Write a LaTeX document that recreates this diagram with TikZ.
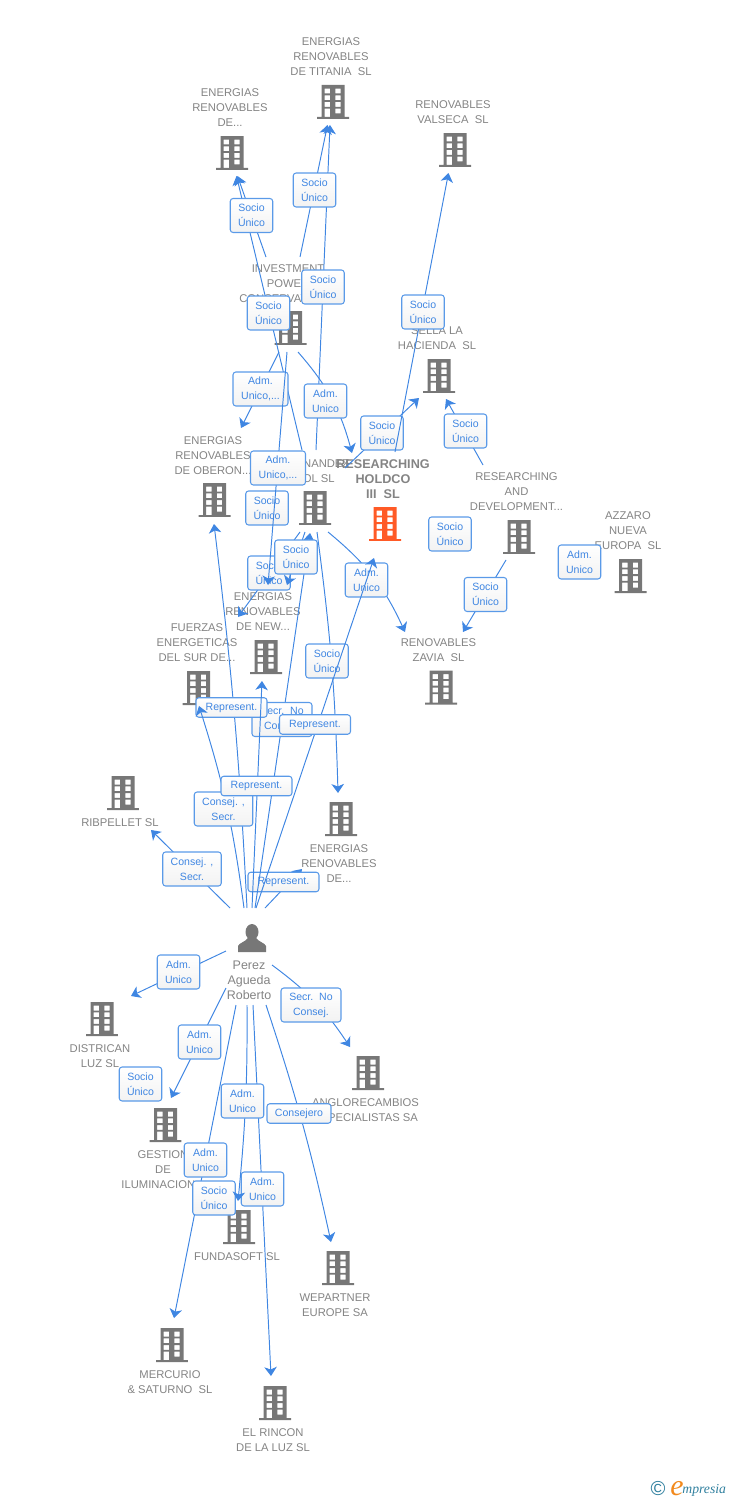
\documentclass[tikz,border=0pt]{standalone}
\usepackage{fontspec}
\setmainfont{Liberation Sans}
\newfontfamily\logofont{Liberation Serif}
\usetikzlibrary{arrows.meta}
\definecolor{relblue}{HTML}{3F86E2}
\definecolor{boxblue}{HTML}{5A9AE8}
\definecolor{cogray}{HTML}{777777}
\definecolor{txtgray}{HTML}{848484}
\definecolor{mainorange}{HTML}{FF5A26}
\definecolor{logoteal}{HTML}{2F7F9E}
\definecolor{logoorange}{HTML}{F28A1E}

\begin{document}
\begin{tikzpicture}[
  x=0.02cm,y=-0.02cm,
  bldg/.style={minimum width=0.64cm,minimum height=0.68cm,inner sep=0pt,
    path picture={\fill[#1,even odd rule,shift={(path picture bounding box.center)}]
      (-11.5,-17) rectangle (11.5,15) (-16,15) rectangle (16,17)
      (-8.3,-13.3) rectangle (-3,-8.5) (2.3,-13.3) rectangle (7.5,-8.5)
      (-8.3,-6.7) rectangle (-3,-1.9) (2.3,-6.7) rectangle (7.5,-1.9)
      (-8.3,0) rectangle (-3,4.8) (2.3,0) rectangle (7.5,4.8)
      (-8.3,6.7) rectangle (-3,15) (2.3,6.7) rectangle (7.5,11.5);}},
  bldg/.default=cogray,
  persona/.style={minimum width=0.56cm,minimum height=0.56cm,inner sep=0pt,
    path picture={\fill[cogray,shift={(path picture bounding box.center)}]
      (0,-6) ellipse (6.5 and 8)
      (-14,14) -- (-14,8) .. controls (-13,5) and (-7,4) .. (-4,0) -- (4,0)
      .. controls (7,4) and (13,5) .. (14,8) -- (14,14) -- cycle;}},
  cotext/.style={align=center,text=txtgray,inner sep=0pt,yshift=-0.5pt,
    font=\fontsize{6.4pt}{8.54pt}\selectfont},
  maintext/.style={cotext,font=\fontsize{7.2pt}{8.54pt}\selectfont\bfseries},
  pertext/.style={cotext,font=\fontsize{7.1pt}{8.54pt}\selectfont},
  rel/.style={draw=relblue,line width=0.55pt,-{Stealth[length=0.18cm,width=0.25cm,inset=0.05cm]}},
  lab/.style={draw=boxblue,line width=0.6pt,rounded corners=1.6pt,top color=white,bottom color=black!5,
    text=relblue,align=center,inner sep=0pt,minimum width=0.85cm,minimum height=0.68cm,
    font=\fontsize{6pt}{8.54pt}\selectfont},
  labw/.style={lab,minimum width=1.42cm,minimum height=0.39cm}
  ]
\useasboundingbox (0,0) rectangle (728,1500);

% companies
\node[bldg] (TITANIA) at (333,102) {};
\node[cotext] (TITANIAt) at (331,56) {ENERGIAS\\RENOVABLES\\DE TITANIA\ \ SL};
\node[bldg] (ENERDE) at (232,153) {};
\node[cotext] (ENERDEt) at (230,107) {ENERGIAS\\RENOVABLES\\DE...};
\node[bldg] (VALSECA) at (455,150) {};
\node[cotext] (VALSECAt) at (453,111.5) {RENOVABLES\\VALSECA\ \ SL};
\node[bldg] (INVEST) at (290.5,328) {};
\node[cotext] (INVESTt) at (288,283) {INVESTMENT\\POWER\\CONSERVATION...};
\node[bldg] (SELLA) at (439,376) {};
\node[cotext] (SELLAt) at (437,337.5) {SELLA LA\\HACIENDA\ \ SL};
\node[bldg] (OBERON) at (214.5,500) {};
\node[cotext] (OBERONt) at (213,455) {ENERGIAS\\RENOVABLES\\DE OBERON...};
\node[bldg] (FERNAN) at (315,508) {};
\node[cotext] (FERNANt) at (315,470) {FERNANDEZ\\SOL SL};
\node[bldg=mainorange] (HOLDCO) at (385,524) {};
\node[maintext] (HOLDCOt) at (383,478) {RESEARCHING\\HOLDCO\\III\ \ SL};
\node[bldg] (DEVEL) at (519,537) {};
\node[cotext] (DEVELt) at (516.5,491) {RESEARCHING\\AND\\DEVELOPMENT...};
\node[bldg] (AZZARO) at (630.5,576) {};
\node[cotext] (AZZAROt) at (628,530) {AZZARO\\NUEVA\\EUROPA\ \ SL};
\node[bldg] (ZAVIA) at (441,687.5) {};
\node[cotext] (ZAVIAt) at (438.5,649.5) {RENOVABLES\\ZAVIA\ \ SL};
\node[bldg] (NEWCO) at (266,657) {};
\node[cotext] (NEWCOt) at (263,611) {ENERGIAS\\RENOVABLES\\DE NEW...};
\node[bldg] (FUERZAS) at (198.5,688) {};
\node[cotext] (FUERZASt) at (197,642) {FUERZAS\\ENERGETICAS\\DEL SUR DE...};
\node[bldg] (RIBPEL) at (123,793) {};
\node[cotext] (RIBPELt) at (120,822) {RIBPELLET SL};
\node[bldg] (ENERLOW) at (341,819) {};
\node[cotext] (ENERLOWt) at (339,863) {ENERGIAS\\RENOVABLES\\DE...};
\node[persona] (PEREZ) at (252,938) {};
\node[pertext] (PEREZt) at (249,979.5) {Perez\\Agueda\\Roberto};
\node[bldg] (DISTRI) at (102,1019) {};
\node[cotext] (DISTRIt) at (100,1055.5) {DISTRICAN\\LUZ SL};
\node[bldg] (GESTION) at (165.5,1125) {};
\node[cotext] (GESTIONt) at (163,1169) {GESTION\\DE\\ILUMINACION...};
\node[bldg] (ANGLO) at (368,1073) {};
\node[cotext] (ANGLOt) at (365.5,1109.5) {ANGLORECAMBIOS\\ESPECIALISTAS SA};
\node[bldg] (FUNDA) at (239,1227) {};
\node[cotext] (FUNDAt) at (237,1256) {FUNDASOFT SL};
\node[bldg] (WEPART) at (338,1268) {};
\node[cotext] (WEPARTt) at (335,1304.5) {WEPARTNER\\EUROPE SA};
\node[bldg] (MERCUR) at (172,1345) {};
\node[cotext] (MERCURt) at (170,1381.5) {MERCURIO\\\& SATURNO\ \ SL};
\node[bldg] (RINCON) at (275,1403) {};
\node[cotext] (RINCONt) at (273,1439.5) {EL RINCON\\DE LA LUZ SL};

% free ends of the connectors
\coordinate (tA) at (316,450);   \coordinate (hA) at (330,125);
\coordinate (tB) at (300,257);   \coordinate (hB) at (327.5,125);
\coordinate (tC) at (302,450);   \coordinate (hC) at (236.5,176);
\coordinate (tD) at (266,257);   \coordinate (hD) at (237.5,176);
\coordinate (tE) at (279,352);   \coordinate (hE) at (241,428);
\coordinate (tF) at (298,352);   \coordinate (hF) at (352,453);
\coordinate (tG) at (345,468);   \coordinate (hG) at (419,398);
\coordinate (tH) at (395,452);   \coordinate (hH) at (448.5,173);
\coordinate (tI) at (483,465);   \coordinate (hI) at (446,399);
\coordinate (tJ) at (506,560);   \coordinate (hJ) at (463,632);
\coordinate (tK) at (328,532);   \coordinate (hK) at (405,632);
\coordinate (tL) at (300,532);   \coordinate (hL) at (238,617);
\coordinate (tM) at (287,352);   \coordinate (hM) at (268,585);
\coordinate (tN) at (265,908);   \coordinate (hN) at (302,869);
\coordinate (tO) at (255,908);   \coordinate (hO) at (310,533);
\coordinate (tP) at (305,532);   \coordinate (hP) at (287,585);
\coordinate (tQ) at (317,532);   \coordinate (hQ) at (338,793);
\coordinate (tR) at (256,908);   \coordinate (hR) at (374,558);
\coordinate (tS) at (247,908);   \coordinate (hS) at (214,524);
\coordinate (tT) at (244,908);   \coordinate (hT) at (199,706);
\coordinate (tU) at (252,908);   \coordinate (hU) at (262,681);
\coordinate (tV) at (230,908);   \coordinate (hV) at (151,830);
\coordinate (ta) at (226,951);   \coordinate (ha) at (131,996);
\coordinate (tb) at (272,965);   \coordinate (hb) at (350,1047);
\coordinate (tc) at (226,988);   \coordinate (hc) at (171,1098);
\coordinate (td) at (236,1005);  \coordinate (hd) at (174,1318);
\coordinate (te) at (253,1005);  \coordinate (he) at (271,1376);
\coordinate (tf) at (247,1005);  \coordinate (hf) at (238,1201);
\coordinate (tg) at (266,1005);  \coordinate (hg) at (331,1242);

% connectors and their labels, later ones lie over earlier ones
\draw[rel] (tA) -- (hA);
\node[lab] (lA) at (323,287) {Socio\\Único};
\draw[rel] (tB) -- (hB);
\node[lab] (lB) at (314.5,190) {Socio\\Único};
\draw[rel] (tC) -- (hC);
\node[lab] (lC) at (268.5,313) {Socio\\Único};
\draw[rel] (tD) -- (hD);
\node[lab] (lD) at (251.5,215.5) {Socio\\Único};
\draw[rel] (tE) -- (hE);
\node[lab,minimum width=1.1cm] (lE) at (260.5,389) {Adm.\\Unico,...};
\draw[rel] (tF) to[bend left=13] (hF);
\node[lab] (lF) at (325.5,401) {Adm.\\Unico};
\node[lab] (lW) at (267,508) {Socio\\Único};
\node[lab] (lX) at (450,534) {Socio\\Único};
\node[lab] (lY) at (579.5,562) {Adm.\\Unico};
\draw[rel] (tG) -- (hG);
\node[lab] (lG) at (382,433) {Socio\\Único};
\draw[rel] (tH) -- (hH);
\node[lab] (lH) at (423,312) {Socio\\Único};
\draw[rel] (tI) -- (hI);
\node[lab] (lI) at (465.5,431) {Socio\\Único};
\draw[rel] (tJ) -- (hJ);
\node[lab] (lJ) at (485.5,594.5) {Socio\\Único};
\draw[rel] (tK) to[bend left=13] (hK);
\node[lab] (lK) at (366.5,580) {Adm.\\Unico};
\draw[rel] (tL) -- (hL);
\node[lab] (lL) at (269,573) {Socio\\Único};
\draw[rel] (tM) -- (hM);
\node[lab,minimum width=1.1cm] (lM) at (278,468) {Adm.\\Unico,...};
\draw[rel] (tN) -- (hN);
\node[labw] (lN) at (283.5,882) {Represent.};
\draw[rel] (tO) -- (hO);
\node[lab,minimum width=1.2cm] (lO) at (282,719.5) {Secr.\ \ No\\Consej.};
\draw[rel] (tP) -- (hP);
\node[lab] (lP) at (296,557) {Socio\\Único};
\draw[rel] (tQ) to[bend left=3] (hQ);
\node[lab] (lQ) at (327,661) {Socio\\Único};
\draw[rel] (tR) -- (hR);
\node[labw] (lR) at (315,724.5) {Represent.};
\draw[rel] (tS) to[bend right=2] (hS);
\node[labw] (lS) at (231.5,707.5) {Represent.};
\draw[rel] (tT) to[bend right=5] (hT);
\node[lab,minimum width=1.17cm] (lT) at (223.5,809) {Consej. ,\\Secr.};
\draw[rel] (tU) -- (hU);
\node[labw] (lU) at (256.5,786) {Represent.};
\draw[rel] (tV) -- (hV);
\node[lab,minimum width=1.17cm] (lV) at (192,869) {Consej. ,\\Secr.};

\draw[rel] (ta) -- (ha);
\node[lab] (la) at (178.5,972) {Adm.\\Unico};
\draw[rel] (tb) to[bend left=10] (hb);
\node[lab,minimum width=1.2cm] (lb) at (311,1005) {Secr.\ \ No\\Consej.};
\draw[rel] (tc) -- (hc);
\node[lab] (lc) at (199.5,1042) {Adm.\\Unico};
\node[lab] (lh) at (140.5,1084) {Socio\\Único};
\draw[rel] (td) -- (hd);
\node[lab] (ld) at (205.5,1160) {Adm.\\Unico};
\node[lab] (li) at (214,1198) {Socio\\Único};
\draw[rel] (te) -- (he);
\node[lab] (le) at (262.5,1189) {Adm.\\Unico};
\draw[rel] (tf) to[bend left=3] (hf);
\node[lab] (lf) at (242.5,1101) {Adm.\\Unico};
\draw[rel] (tg) to[bend left=3] (hg);
\node[labw,minimum width=1.28cm] (lg) at (299,1113.5) {Consejero};

% logo
\node[inner sep=0pt,text=logoteal,font=\fontsize{11.5pt}{12pt}\selectfont] (LOGOc) at (658,1489) {©};
\node[inner sep=0pt,anchor=base,text=logoorange,font=\logofont\itshape\fontsize{17pt}{17pt}\selectfont] (LOGOe) at (677,1495) {e};
\node[inner sep=0pt,anchor=base west,text=logoteal,font=\logofont\itshape\fontsize{7.8pt}{9pt}\selectfont] (LOGOt) at (682,1493) {mpresia};
\end{tikzpicture}
\end{document}
